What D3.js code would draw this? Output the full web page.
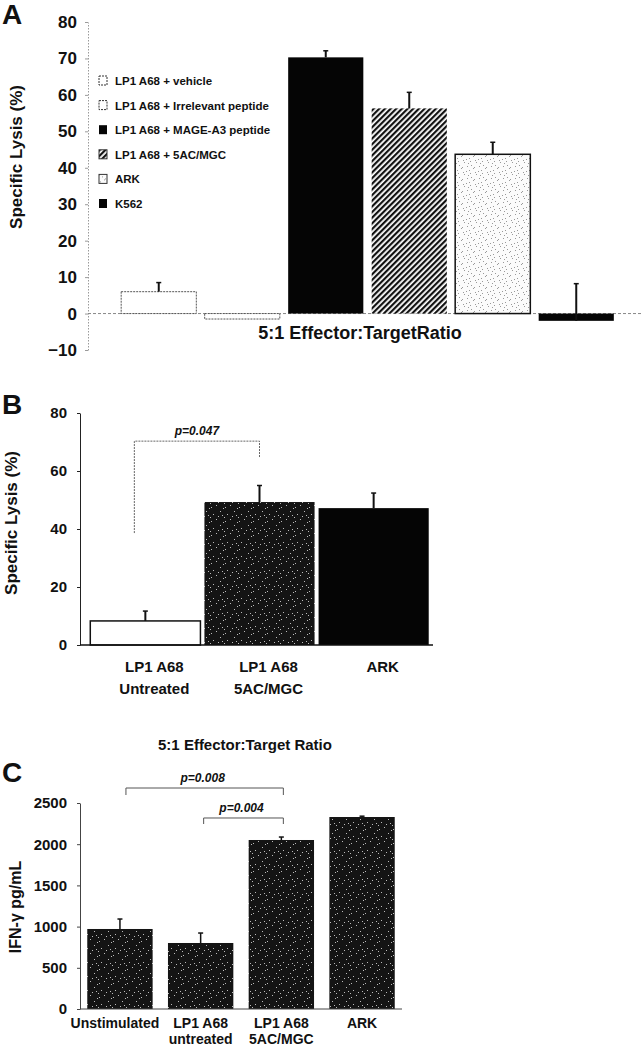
<!DOCTYPE html>
<html lang="en">
<head>
<meta charset="utf-8">
<script src="https://d3js.org/d3.v7.min.js"></script>
<style>
  body { margin: 0; background: #fff; }
  svg text { font-family: "Liberation Sans", Arial, sans-serif; fill: #111; }
</style>
</head>
<body>
<div id="chart"></div>
<script>
// ---- panel A data ----
var aGroups = ["LP1 A68 + vehicle", "LP1 A68 + Irrelevant peptide", "LP1 A68 + MAGE-A3 peptide",
               "LP1 A68 + 5AC/MGC", "ARK", "K562"];
var aLysis = [6, -1.5, 70.3, 56.3, 43.7, -2];
var aErr = [2.5, 0, 1.8, 4.4, 3.3, 10.2];
var aFills = ["white", "white", "black", "hatch", "lightdots", "black"];
var aTicks = [-10, 0, 10, 20, 30, 40, 50, 60, 70, 80];

// ---- panel B data ----
var bGroups = [["LP1 A68", "Untreated"], ["LP1 A68", "5AC/MGC"], ["ARK"]];
var bLysis = [8.3, 49.3, 47.2];
var bErr = [3.4, 5.7, 5.2];
var bFills = ["white", "darkdots", "black"];
var bTicks = [0, 20, 40, 60, 80];
// bracket: from group, to group, left end, top, right end, label
var bBracket = [0, 1, 38.6, 70.3, 64.5, "p=0.047"];

// ---- panel C data ----
var cGroups = [["Unstimulated"], ["LP1 A68", "untreated"], ["LP1 A68", "5AC/MGC"], ["ARK"]];
var cIfn = [971, 801, 2051, 2330];
var cErr = [121, 121, 36, 10];
var cTicks = [0, 500, 1000, 1500, 2000, 2500];
var cBrackets = [
  [0, 2, 2597, 2682, 2597, "p=0.008"],
  [1, 2, 2245, 2318, 2245, "p=0.004"]
];

var svg = d3.select("#chart").append("svg")
    .attr("width", 643)
    .attr("height", 1050);

svg.append("rect").attr("width", 643).attr("height", 1050).attr("fill", "#fff");

// patterns for the bar fills
var defs = svg.append("defs");

var hatch = defs.append("pattern")
    .attr("id", "hatch")
    .attr("patternUnits", "userSpaceOnUse")
    .attr("width", 4).attr("height", 4)
    .attr("patternTransform", "rotate(45)");
hatch.append("rect").attr("width", 4).attr("height", 4).attr("fill", "#fff");
hatch.append("rect").attr("width", 2.2).attr("height", 4).attr("fill", "#111");

// sparse grey specks on white
var lightDots = [[1,2],[5,0],[8,6],[3,9],[10,3],[6,11],[0,7],[11,10],[7,4],[2,5]];
var ld = defs.append("pattern")
    .attr("id", "lightdots")
    .attr("patternUnits", "userSpaceOnUse")
    .attr("width", 12).attr("height", 12);
ld.append("rect").attr("width", 12).attr("height", 12).attr("fill", "#fbfbfb");
ld.selectAll("rect.d").data(lightDots).enter().append("rect")
    .attr("class", "d")
    .attr("x", d => d[0]).attr("y", d => d[1])
    .attr("width", 1).attr("height", 1)
    .attr("fill", "#999");

// sparse white specks on black
var darkDots = [[1,3],[6,1],[10,7],[3,10],[8,12],[13,4],[0,13],[12,11]];
var dd = defs.append("pattern")
    .attr("id", "darkdots")
    .attr("patternUnits", "userSpaceOnUse")
    .attr("width", 14).attr("height", 14);
dd.append("rect").attr("width", 14).attr("height", 14).attr("fill", "#141414");
dd.selectAll("rect.d").data(darkDots).enter().append("rect")
    .attr("class", "d")
    .attr("x", d => d[0]).attr("y", d => d[1])
    .attr("width", 1).attr("height", 1)
    .attr("fill", "#bbb");

function fillOf(f) {
    if (f == "hatch" || f == "lightdots" || f == "darkdots") return "url(#" + f + ")";
    return f == "black" ? "#050505" : "#fff";
}

function panelLetter(t, x, y) {
    svg.append("text").attr("x", x).attr("y", y).text(t)
        .style("font-size", "28px").style("font-weight", "700");
}

function yLabel(t, x, y, size) {
    svg.append("text")
        .attr("transform", "translate(" + x + "," + y + ") rotate(-90)")
        .attr("text-anchor", "middle")
        .text(t)
        .style("font-size", size + "px").style("font-weight", "700");
}

function errorBars(g, x, y, vals, errs, w) {
    vals.forEach(function(v, i) {
        if (!errs[i]) return;
        var cx = x(i) + x.bandwidth() / 2;
        g.append("line")
            .attr("x1", cx).attr("x2", cx)
            .attr("y1", y(v)).attr("y2", y(v + errs[i]))
            .attr("stroke", "#111").attr("stroke-width", w);
        g.append("line")
            .attr("x1", cx - 2.5).attr("x2", cx + 2.5)
            .attr("y1", y(v + errs[i])).attr("y2", y(v + errs[i]))
            .attr("stroke", "#111").attr("stroke-width", 1.5);
    });
}

function styleAxis(g, size, color, dash) {
    g.selectAll("text")
        .style("font-size", size + "px")
        .style("font-weight", "700")
        .attr("fill", "#111");
    g.selectAll("path, line").attr("stroke", color);
    if (dash) g.selectAll("path").attr("stroke-dasharray", dash);
}

// =================== Panel A ===================
var gA = svg.append("g");
var xA = d3.scaleBand().domain(d3.range(aGroups.length)).range([117, 618])
    .paddingInner(0.1).paddingOuter(0.05);
var yA = d3.scaleLinear().domain([-10, 80]).range([350, 22]);

panelLetter("A", 2, 24);
yLabel("Specific Lysis (%)", 22, 157, 17);

var axA = gA.append("g")
    .attr("transform", "translate(88,0)")
    .call(d3.axisLeft(yA).tickValues(aTicks).tickSize(3).tickSizeOuter(0).tickPadding(8));
styleAxis(axA, 17, "#9a9a9a", "1.5,1.5");

// zero line
gA.append("line")
    .attr("x1", 88).attr("x2", 642)
    .attr("y1", yA(0)).attr("y2", yA(0))
    .attr("stroke", "#888").attr("stroke-width", 1).attr("stroke-dasharray", "3,2");

gA.selectAll("rect.bar").data(aLysis).enter().append("rect")
    .attr("class", "bar")
    .attr("x", (d, i) => xA(i))
    .attr("width", xA.bandwidth())
    .attr("y", d => yA(Math.max(0, d)))
    .attr("height", d => Math.abs(yA(d) - yA(0)))
    .attr("fill", (d, i) => fillOf(aFills[i]))
    .attr("stroke", (d, i) => aFills[i] == "white" ? "#555" : (aFills[i] == "lightdots" ? "#111" : "none"))
    .attr("stroke-width", (d, i) => aFills[i] == "lightdots" ? 1.5 : 1)
    .attr("stroke-dasharray", (d, i) => aFills[i] == "white" ? "2,1" : null);

errorBars(gA, xA, yA, aLysis, aErr, 2);

// legend
var legA = gA.append("g").attr("transform", "translate(99,81)");
var leg = legA.selectAll("g").data(aGroups).enter().append("g")
    .attr("transform", (d, i) => "translate(0," + (i * 24.6) + ")");
leg.append("rect")
    .attr("x", 0).attr("y", -5).attr("width", 8).attr("height", 9)
    .attr("fill", (d, i) => fillOf(aFills[i]))
    .attr("stroke", (d, i) => aFills[i] == "black" ? "none" : "#333")
    .attr("stroke-width", 1)
    .attr("stroke-dasharray", (d, i) => aFills[i] == "white" ? "2,1" : null);
leg.append("text")
    .attr("x", 16).attr("y", 4)
    .text(d => d)
    .style("font-size", "11.5px").style("font-weight", "700");

gA.append("text")
    .attr("x", 360).attr("y", 339)
    .attr("text-anchor", "middle")
    .text("5:1 Effector:TargetRatio")
    .style("font-size", "18px").style("font-weight", "700");

// =================== Panel B ===================
var gB = svg.append("g");
var xB = d3.scaleBand().domain(d3.range(bGroups.length)).range([88, 431])
    .paddingInner(0.035).paddingOuter(0.02);
var yB = d3.scaleLinear().domain([0, 80]).range([645, 413]);

panelLetter("B", 2, 414);
yLabel("Specific Lysis (%)", 17, 523, 17);

var axB = gB.append("g")
    .attr("transform", "translate(80,0)")
    .call(d3.axisLeft(yB).tickValues(bTicks).tickSize(3).tickSizeOuter(0).tickPadding(10));
styleAxis(axB, 15, "#222");

gB.selectAll("rect.bar").data(bLysis).enter().append("rect")
    .attr("class", "bar")
    .attr("x", (d, i) => xB(i))
    .attr("width", xB.bandwidth())
    .attr("y", d => yB(d))
    .attr("height", d => yB(0) - yB(d))
    .attr("fill", (d, i) => fillOf(bFills[i]))
    .attr("stroke", (d, i) => bFills[i] == "white" ? "#111" : "none")
    .attr("stroke-width", 1.5);

errorBars(gB, xB, yB, bLysis, bErr, 2);

gB.append("line")
    .attr("x1", 80).attr("x2", 433)
    .attr("y1", yB(0)).attr("y2", yB(0))
    .attr("stroke", "#111").attr("stroke-width", 1.5);

// bracket
var bx1 = xB(bBracket[0]) + xB.bandwidth() * 0.4,
    bx2 = xB(bBracket[1]) + xB.bandwidth() / 2;
gB.append("path")
    .attr("d", "M" + bx1 + "," + yB(bBracket[2]) + "V" + yB(bBracket[3]) +
               "H" + bx2 + "V" + yB(bBracket[4]))
    .attr("fill", "none").attr("stroke", "#666").attr("stroke-width", 1)
    .attr("stroke-dasharray", "2,1");
gB.append("text")
    .attr("x", (bx1 + bx2) / 2).attr("y", yB(bBracket[3]) - 6)
    .attr("text-anchor", "middle")
    .text(bBracket[5])
    .style("font-size", "12px").style("font-weight", "700").style("font-style", "italic");

var labB = gB.selectAll("text.xl").data(bGroups).enter().append("text")
    .attr("class", "xl")
    .attr("text-anchor", "middle")
    .attr("transform", (d, i) => "translate(" + (xB(i) + xB.bandwidth() / 2 + 9) + ",672)")
    .style("font-size", "15px").style("font-weight", "700");
labB.selectAll("tspan").data(d => d).enter().append("tspan")
    .attr("x", 0).attr("dy", (d, i) => i == 0 ? 0 : 22)
    .text(d => d);

// =================== Panel C ===================
var gC = svg.append("g");
var xC = d3.scaleBand().domain(d3.range(cGroups.length)).range([80, 402])
    .paddingInner(0.19).paddingOuter(0.09);
var yC = d3.scaleLinear().domain([0, 2500]).range([1009, 803]);

svg.append("text")
    .attr("x", 245).attr("y", 750)
    .attr("text-anchor", "middle")
    .text("5:1 Effector:Target Ratio")
    .style("font-size", "15px").style("font-weight", "700");

panelLetter("C", 2, 782);
yLabel("IFN-\u03b3 pg/mL", 21, 907, 16);

var axC = gC.append("g")
    .attr("transform", "translate(80,0)")
    .call(d3.axisLeft(yC).tickValues(cTicks).tickFormat(d3.format("d"))
        .tickSize(3).tickSizeOuter(0).tickPadding(10));
styleAxis(axC, 15, "#444");

gC.selectAll("rect.bar").data(cIfn).enter().append("rect")
    .attr("class", "bar")
    .attr("x", (d, i) => xC(i))
    .attr("width", xC.bandwidth())
    .attr("y", d => yC(d))
    .attr("height", d => yC(0) - yC(d))
    .attr("fill", "url(#darkdots)");

errorBars(gC, xC, yC, cIfn, cErr, 1.5);

gC.append("line")
    .attr("x1", 80).attr("x2", 402)
    .attr("y1", yC(0)).attr("y2", yC(0))
    .attr("stroke", "#444").attr("stroke-width", 1);

cBrackets.forEach(function(b) {
    var x1 = xC(b[0]) + xC.bandwidth() / 2 + (b[0] == 0 ? 6 : 3),
        x2 = xC(b[1]) + xC.bandwidth() / 2 + 2;
    gC.append("path")
        .attr("d", "M" + x1 + "," + yC(b[2]) + "V" + yC(b[3]) + "H" + x2 + "V" + yC(b[4]))
        .attr("fill", "none").attr("stroke", "#555").attr("stroke-width", 1);
    gC.append("text")
        .attr("x", (x1 + x2) / 2 - 2).attr("y", yC(b[3]) - 6)
        .attr("text-anchor", "middle")
        .text(b[5])
        .style("font-size", "12px").style("font-weight", "700").style("font-style", "italic");
});

var labC = gC.selectAll("text.xl").data(cGroups).enter().append("text")
    .attr("class", "xl")
    .attr("text-anchor", "middle")
    .attr("transform", (d, i) => "translate(" + (xC(i) + xC.bandwidth() / 2 - (i == 0 ? 5 : 0)) + ",1028)")
    .style("font-size", "14px").style("font-weight", "700");
labC.selectAll("tspan").data(d => d).enter().append("tspan")
    .attr("x", 0).attr("dy", (d, i) => i == 0 ? 0 : 16)
    .text(d => d);
</script>
</body>
</html>
